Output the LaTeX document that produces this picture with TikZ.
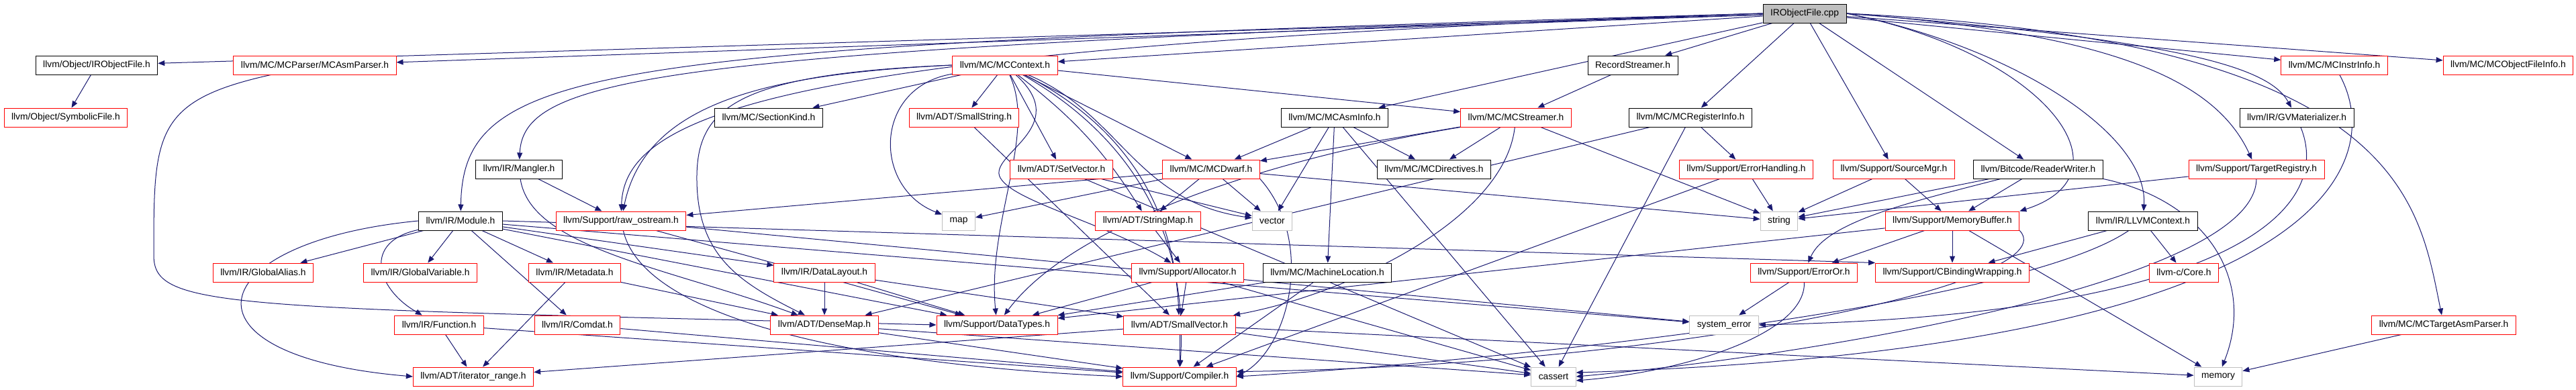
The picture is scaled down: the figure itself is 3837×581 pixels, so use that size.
\documentclass[tikz,border=0pt]{standalone}
\usepackage{fontspec}
\setmainfont{Liberation Sans}
\usetikzlibrary{arrows.meta}
\definecolor{depblue}{HTML}{191970}
\definecolor{cutred}{HTML}{FF0000}
\definecolor{sysgray}{HTML}{BFBFBF}
\pgfdeclarelayer{back}
\pgfsetlayers{back,main}
\begin{document}
\begin{tikzpicture}[
    x=1pt,y=-1pt,
    every node/.style={font=\fontsize{13.8}{16}\selectfont},
    hdr/.style={draw=black, fill=white, line width=1pt, minimum height=28pt, inner xsep=11pt, inner ysep=0pt},
    cut/.style={hdr, draw=cutred},
    sys/.style={hdr, draw=sysgray},
    srcfile/.style={hdr, fill=sysgray},
    dep/.style={draw=depblue, line width=1pt, -{Triangle[length=10pt,width=8pt]}}
]
    \useasboundingbox (0,0) rectangle (3837,581);

    \node[srcfile] (root) at (2688,20) {IRObjectFile.cpp};

    \node[hdr] (irobjh) at (144,97) {llvm/Object/IRObjectFile.h};
    \node[cut] (asmparser) at (469,97) {llvm/MC/MCParser/MCAsmParser.h};
    \node[cut] (mccontext) at (1497,97) {llvm/MC/MCContext.h};
    \node[hdr] (recstreamer) at (2432,97) {RecordStreamer.h};
    \node[cut] (mcinstrinfo) at (3477,97) {llvm/MC/MCInstrInfo.h};
    \node[cut] (mcobjfi) at (3736,97) {llvm/MC/MCObjectFileInfo.h};

    \node[cut] (symfile) at (98,175) {llvm/Object/SymbolicFile.h};
    \node[hdr] (sectionkind) at (1145,175) {llvm/MC/SectionKind.h};
    \node[cut] (smallstring) at (1436,175) {llvm/ADT/SmallString.h};
    \node[hdr] (mcasminfo) at (1988,175) {llvm/MC/MCAsmInfo.h};
    \node[cut] (mcstreamer) at (2258,175) {llvm/MC/MCStreamer.h};
    \node[hdr] (mcreginfo) at (2518,175) {llvm/MC/MCRegisterInfo.h};
    \node[hdr] (gvmat) at (3421,175) {llvm/IR/GVMaterializer.h};

    \node[hdr] (mangler) at (773,252) {llvm/IR/Mangler.h};
    \node[cut] (setvector) at (1581,252) {llvm/ADT/SetVector.h};
    \node[cut] (mcdwarf) at (1804,252) {llvm/MC/MCDwarf.h};
    \node[hdr] (mcdirectives) at (2136,252) {llvm/MC/MCDirectives.h};
    \node[cut] (errhandling) at (2601,252) {llvm/Support/ErrorHandling.h};
    \node[cut] (sourcemgr) at (2821,252) {llvm/Support/SourceMgr.h};
    \node[hdr] (readerwriter) at (3036,252) {llvm/Bitcode/ReaderWriter.h};
    \node[cut] (targetreg) at (3361,252) {llvm/Support/TargetRegistry.h};

    \node[hdr] (module) at (686,329) {llvm/IR/Module.h};
    \node[cut] (rawos) at (925,329) {llvm/Support/raw\_ostream.h};
    \node[sys] (map) at (1428,329) {map};
    \node[cut] (stringmap) at (1710,329) {llvm/ADT/StringMap.h};
    \node[sys] (vector) at (1895,329) {vector};
    \node[sys] (string) at (2650,329) {string};
    \node[cut] (membuf) at (2908,329) {llvm/Support/MemoryBuffer.h};
    \node[hdr] (llvmctx) at (3192,329) {llvm/IR/LLVMContext.h};

    \node[cut] (globalalias) at (392,406) {llvm/IR/GlobalAlias.h};
    \node[cut] (globalvar) at (626,406) {llvm/IR/GlobalVariable.h};
    \node[cut] (metadata) at (856,406) {llvm/IR/Metadata.h};
    \node[cut] (datalayout) at (1228,406) {llvm/IR/DataLayout.h};
    \node[cut] (allocator) at (1769,406) {llvm/Support/Allocator.h};
    \node[hdr] (machineloc) at (1977,406) {llvm/MC/MachineLocation.h};
    \node[cut] (erroror) at (2687,406) {llvm/Support/ErrorOr.h};
    \node[cut] (cbinding) at (2908,406) {llvm/Support/CBindingWrapping.h};
    \node[cut] (core) at (3253,406) {llvm-c/Core.h};

    \node[cut] (function) at (654,484) {llvm/IR/Function.h};
    \node[cut] (comdat) at (860,484) {llvm/IR/Comdat.h};
    \node[cut] (densemap) at (1228,484) {llvm/ADT/DenseMap.h};
    \node[cut] (datatypes) at (1485,484) {llvm/Support/DataTypes.h};
    \node[cut] (smallvector) at (1757,484) {llvm/ADT/SmallVector.h};
    \node[sys] (syserror) at (2568,484) {system\_error};
    \node[cut] (mctargetasm) at (3640,484) {llvm/MC/MCTargetAsmParser.h};

    \node[cut] (iterrange) at (705,561) {llvm/ADT/iterator\_range.h};
    \node[cut] (compiler) at (1757,561) {llvm/Support/Compiler.h};
    \node[sys] (cassert) at (2314,561) {cassert};
    \node[sys] (memory) at (3304,561) {memory};

    \begin{pgfonlayer}{back}
    \foreach \dst in {irobjh,asmparser,mccontext,mcasminfo,recstreamer,mcreginfo,sourcemgr,readerwriter,mcinstrinfo,mcobjfi}
        \draw[dep] (root) -- (\dst);
    \draw[dep] (root.west) .. controls (900,70) and (690,90) .. (module);
    \draw[dep] (root.west) .. controls (1000,75) and (780,110) .. (mangler);
    \draw[dep] (root.west) .. controls (1200,70) and (930,160) .. (rawos);
    \draw[dep] (root.east) .. controls (3000,70) and (3200,200) .. (llvmctx);
    \draw[dep] (root.east) .. controls (3050,80) and (3180,260) .. (membuf.north east);
    \draw[dep] (root.east) .. controls (3150,50) and (3300,120) .. (targetreg);
    \draw[dep] (root.east) .. controls (3250,60) and (3380,100) .. (gvmat);
    \draw[dep] (root.east) .. controls (3580,60) and (3602,300) .. (mctargetasm);

    \draw[dep] (irobjh) -- (symfile);
    \draw[dep] (asmparser) .. controls (229,150) and (229,200) .. (229,380) .. controls (229,460) and (330,458) .. (datatypes.west);

    \foreach \dst in {sectionkind,smallstring,setvector,mcdwarf,mcstreamer}
        \draw[dep] (mccontext) -- (\dst);
    \draw[dep] (mccontext.west) .. controls (1150,110) and (962,150) .. (rawos);
    \draw[dep] (mccontext) .. controls (1300,130) and (1300,280) .. (map);
    \draw[dep] (mccontext.west) .. controls (1100,110) and (1040,160) .. (1038,260) .. controls (1036,380) and (1100,420) .. (densemap);
    \draw[dep] (mccontext) .. controls (1545,200) and (1470,330) .. (datatypes);
    \draw[dep] (mccontext) to[bend left=10] (stringmap);
    \draw[dep] (mccontext) .. controls (1600,190) and (1470,230) .. (1490,265) .. controls (1510,300) and (1640,330) .. (allocator);
    \draw[dep] (mccontext) to[bend left=30] (smallvector);
    \draw[dep] (mccontext) to[bend left=32] (compiler);
    \draw[dep] (mccontext) .. controls (1670,170) and (1690,300) .. (vector);

    \foreach \dst in {mcdwarf,mcdirectives,vector,machineloc,cassert}
        \draw[dep] (mcasminfo) -- (\dst);
    \draw[dep] (recstreamer) -- (mcstreamer);
    \foreach \dst in {mcdwarf,mcdirectives,string}
        \draw[dep] (mcstreamer) -- (\dst);
    \draw[dep] (mcstreamer) .. controls (2240,330) and (2000,440) .. (smallvector);
    \draw[dep] (mcstreamer.south west) .. controls (1900,235) and (1600,330) .. (datatypes);
    \foreach \dst in {errhandling,cassert,densemap}
        \draw[dep] (mcreginfo) -- (\dst);
    \foreach \dst in {compiler,string}
        \draw[dep] (errhandling) -- (\dst);
    \foreach \dst in {string,membuf}
        \draw[dep] (sourcemgr) -- (\dst);
    \foreach \dst in {string,membuf}
        \draw[dep] (readerwriter) -- (\dst);
    \draw[dep] (readerwriter) .. controls (2850,300) and (2720,330) .. (erroror);
    \draw[dep] (readerwriter.south east) .. controls (3290,300) and (3360,420) .. (memory);
    \draw[dep] (targetreg) -- (string);
    \draw[dep] (targetreg) .. controls (3360,420) and (2700,530) .. (cassert.east);
    \draw[dep] (gvmat) .. controls (3480,320) and (3300,470) .. (syserror.east);
    \draw[dep] (mcinstrinfo) .. controls (3560,250) and (3450,520) .. (cassert.10);
    \draw[dep] (mctargetasm) -- (memory);
    \foreach \dst in {cbinding,core}
        \draw[dep] (llvmctx) -- (\dst);
    \draw[dep] (llvmctx) .. controls (3000,460) and (2200,540) .. (compiler.east);
    \foreach \dst in {erroror,cbinding,datatypes,memory}
        \draw[dep] (membuf) -- (\dst);
    \draw[dep] (membuf.south east) .. controls (3080,420) and (2500,545) .. (compiler.5);
    \draw[dep] (erroror) -- (syserror);
    \draw[dep] (erroror) .. controls (2690,500) and (2500,555) .. (cassert.-10);

    \foreach \dst in {globalalias,globalvar,metadata,comdat,datalayout,datatypes,syserror}
        \draw[dep] (module) -- (\dst);
    \draw[dep] (module.east) -- (cbinding.north west);
    \draw[dep] (module) .. controls (540,360) and (560,430) .. (function);
    \draw[dep] (module.west) .. controls (300,360) and (250,530) .. (iterrange.west);
    \foreach \dst in {densemap,iterrange}
        \draw[dep] (metadata) -- (\dst);
    \foreach \dst in {iterrange,compiler}
        \draw[dep] (function) -- (\dst);
    \draw[dep] (comdat) -- (compiler);
    \foreach \dst in {densemap,datatypes,smallvector}
        \draw[dep] (datalayout) -- (\dst);
    \foreach \dst in {compiler,cassert}
        \draw[dep] (densemap) -- (\dst);
    \draw[dep] (mangler) -- (rawos);
    \draw[dep] (mangler) .. controls (790,370) and (1000,400) .. (densemap);
    \draw[dep] (rawos) .. controls (960,480) and (1300,545) .. (compiler.west);
    \foreach \dst in {datatypes,syserror}
        \draw[dep] (rawos) -- (\dst);
    \draw[dep] (smallstring) -- (smallvector);
    \foreach \dst in {vector,cassert}
        \draw[dep] (setvector) -- (\dst);
    \foreach \dst in {rawos,map,stringmap,vector,string}
        \draw[dep] (mcdwarf) -- (\dst);
    \draw[dep] (mcdwarf.south east) .. controls (1960,360) and (1920,520) .. (compiler.east);
    \draw[dep] (stringmap) -- (allocator);
    \foreach \dst in {datatypes,smallvector,cassert}
        \draw[dep] (allocator) -- (\dst);
    \foreach \dst in {datatypes,compiler}
        \draw[dep] (machineloc) -- (\dst);
    \foreach \dst in {iterrange,compiler,cassert,memory}
        \draw[dep] (smallvector) -- (\dst);
    \end{pgfonlayer}
\end{tikzpicture}
\end{document}
